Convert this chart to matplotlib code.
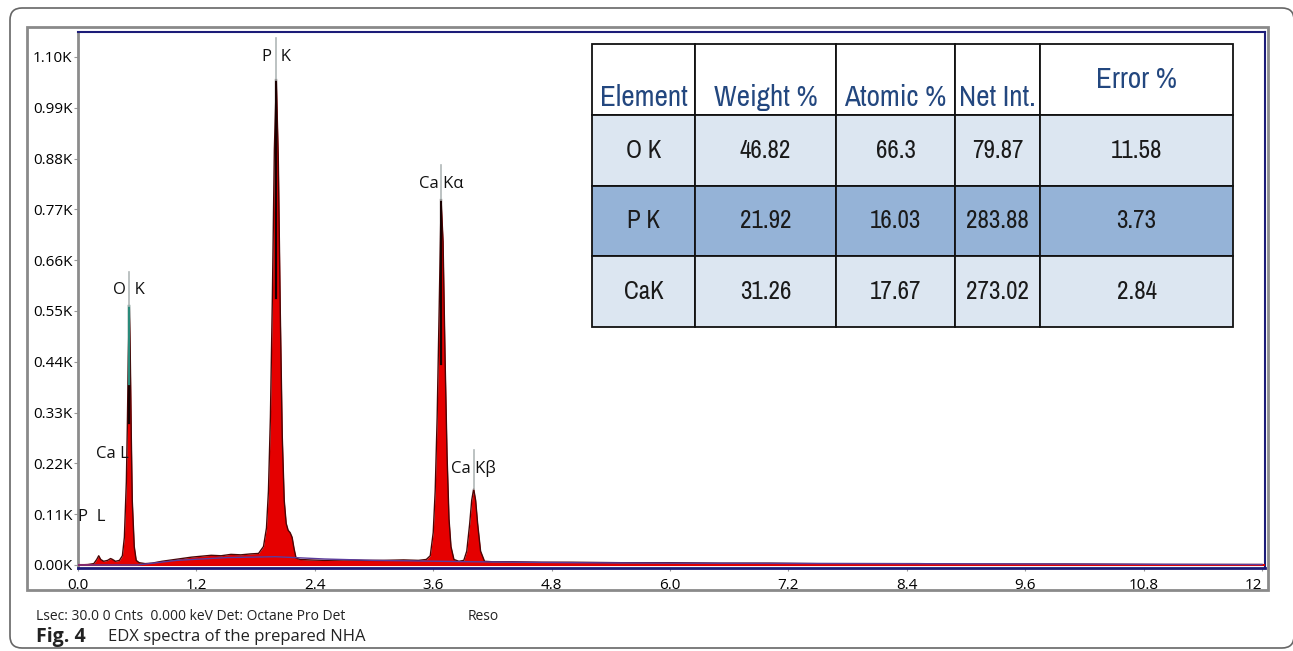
import matplotlib
matplotlib.use('Agg')
import matplotlib.pyplot as plt
import matplotlib.transforms as mtransforms
from matplotlib.patches import Rectangle, FancyBboxPatch

# ---- spectrum (energy keV, counts in K) ----
energy = [0.00, 0.10, 0.16, 0.19, 0.21, 0.23, 0.26, 0.30, 0.33, 0.35, 0.38, 0.42,
          0.45, 0.47, 0.49, 0.50, 0.51, 0.52, 0.53, 0.54, 0.55, 0.57, 0.59,
          0.62, 0.68, 0.75, 0.85, 0.95, 1.05, 1.15, 1.25, 1.35, 1.45, 1.55, 1.65, 1.75,
          1.83, 1.88, 1.91, 1.93, 1.95, 1.97, 1.99, 2.01, 2.03, 2.05, 2.07, 2.09,
          2.11, 2.13, 2.15, 2.17, 2.19, 2.21, 2.25,
          2.35, 2.50, 2.70, 2.90, 3.10, 3.30, 3.45,
          3.53, 3.57, 3.60, 3.62, 3.64, 3.66, 3.68, 3.70, 3.72, 3.74, 3.76, 3.78, 3.81, 3.86,
          3.91, 3.94, 3.97, 3.99, 4.01, 4.03, 4.05, 4.08, 4.12,
          4.20, 4.40, 4.70, 5.00, 5.50, 6.00, 6.50, 7.00, 7.50, 8.00, 8.50, 9.00, 9.50,
          10.0, 11.0, 12.0]
counts = [0.000, 0.001, 0.003, 0.012, 0.020, 0.012, 0.008, 0.010, 0.014, 0.012, 0.008, 0.010,
          0.020, 0.060, 0.180, 0.300, 0.450, 0.560, 0.450, 0.280, 0.140, 0.040, 0.010,
          0.005, 0.003, 0.004, 0.008, 0.011, 0.014, 0.017, 0.019, 0.021, 0.020, 0.023, 0.022, 0.024,
          0.025, 0.040, 0.080, 0.160, 0.320, 0.580, 0.900, 1.050, 0.880, 0.550, 0.280, 0.140,
          0.090, 0.075, 0.070, 0.060, 0.035, 0.015, 0.012,
          0.011, 0.010, 0.011, 0.010, 0.010, 0.011, 0.010,
          0.012, 0.020, 0.070, 0.160, 0.320, 0.550, 0.790, 0.700, 0.450, 0.240, 0.100, 0.040, 0.012, 0.008,
          0.010, 0.030, 0.090, 0.140, 0.165, 0.140, 0.090, 0.030, 0.008,
          0.007, 0.007, 0.006, 0.006, 0.005, 0.005, 0.004, 0.004, 0.003, 0.003, 0.003, 0.002, 0.002,
          0.002, 0.001, 0.001]

# fitted background line
bkg_energy = [0.0, 0.6, 1.0, 1.5, 2.0, 2.5, 3.0, 4.0, 5.0, 6.0, 8.0, 10.0, 12.0]
bkg_counts = [0.0, 0.0, 0.010, 0.016, 0.018, 0.013, 0.010, 0.007, 0.005, 0.004, 0.003, 0.002, 0.001]

# peak labels
peak_names = ['P  K', 'O  K', 'Ca K\u03b1', 'Ca K\u03b2', 'Ca L', 'P  L']
peak_energy = [2.01, 0.52, 3.68, 4.01, 0.35, 0.14]
peak_top = [1.05, 0.56, 0.79, 0.165, 0.015, 0.012]
label_y = [1.10, 0.595, 0.825, 0.21, 0.24, 0.105]

xticks = [0.0, 1.2, 2.4, 3.6, 4.8, 6.0, 7.2, 8.4, 9.6, 10.8, 12.0]
xtick_labels = ['0.0', '1.2', '2.4', '3.6', '4.8', '6.0', '7.2', '8.4', '9.6', '10.8', '12']
yticks = [0.0, 0.11, 0.22, 0.33, 0.44, 0.55, 0.66, 0.77, 0.88, 0.99, 1.10]
ytick_labels = ['0.00K', '0.11K', '0.22K', '0.33K', '0.44K', '0.55K',
                '0.66K', '0.77K', '0.88K', '0.99K', '1.10K']

# quantification table
col_labels = ['Element', 'Weight %', 'Atomic %', 'Net Int.', 'Error %']
elements = ['O K', 'P K', 'CaK']
weight = ['46.82', '21.92', '31.26']
atomic = ['66.3', '16.03', '17.67']
net_int = ['79.87', '283.88', '273.02']
error = ['11.58', '3.73', '2.84']

W, H = 1293, 651
fig = plt.figure(figsize=(W / 100, H / 100), dpi=100)

# outer rounded frame and grey panel
fig.add_artist(FancyBboxPatch((0.10, 0.03), 12.84, 6.40,
                              boxstyle='round,pad=0,rounding_size=0.12',
                              transform=fig.dpi_scale_trans, fill=False,
                              ec='#666666', lw=1.2))
fig.add_artist(Rectangle((27 / W, 1 - 590 / H), (1268 - 27) / W, (590 - 27) / H,
                         transform=fig.transFigure, fill=False, ec='#8a8a8a', lw=2))

ax = fig.add_axes([78 / W, 1 - 568 / H, (1265 - 78) / W, (568 - 32) / H])
ax.set_xlim(0, 12.03)
ax.set_ylim(-0.0065, 1.154)

ax.fill_between(energy, counts, 0, color='#e50000', lw=0, zorder=2)
ax.plot(energy, counts, color='#4a0505', lw=1.0, zorder=3)
ax.plot(bkg_energy, bkg_counts, color='#5a3c9c', lw=1.0, zorder=4)
ax.axhline(0, color='#e00000', lw=1.5, zorder=3)

# dark top of the narrow peaks
for e, h in zip(peak_energy[:3], peak_top[:3]):
    ax.plot([e, e], [0.55 * h, h], color='#1a0000', lw=1.6, zorder=4)
ax.plot([peak_energy[1], peak_energy[1]], [0.70 * peak_top[1], peak_top[1]],
        color='#2a8a7a', lw=1.6, zorder=5)

# label marker lines + labels
for name, e, h, ly in zip(peak_names, peak_energy, peak_top, label_y):
    if h > 0.1:
        ax.plot([e, e], [h, ly + 0.04], color='#b0b8b8', lw=1.2, zorder=5)
    ax.text(e, ly, name, ha='center', va='center', fontsize=12,
            family='Open Sans', color='#111111', zorder=6)

for side in ['top', 'right', 'bottom']:
    ax.spines[side].set_color('#1c1c78')
ax.spines['top'].set_linewidth(1.5)
ax.spines['right'].set_linewidth(1.5)
ax.spines['bottom'].set_linewidth(2)
ax.spines['left'].set_color('#8c8c8c')
ax.spines['left'].set_linewidth(2)

ax.set_xticks(xticks)
ax.set_xticklabels(xtick_labels, family='Open Sans', fontsize=11)
ax.set_yticks(yticks)
ax.set_yticklabels(ytick_labels, family='Open Sans', fontsize=11)
ax.get_xticklabels()[-1].set_horizontalalignment('right')
ax.tick_params(axis='y', direction='out', length=3, color='#999999', pad=1)
ax.tick_params(axis='x', direction='out', length=2, color='#999999', pad=5)

# table
rows = [list(r) for r in zip(elements, weight, atomic, net_int, error)]
row_colors = ['#dce6f1', '#95b3d7', '#dce6f1']
col_w = [103, 141, 119, 85, 193]
tx0 = (592 - 78) / (1265 - 78)
tx1 = (1233 - 78) / (1265 - 78)
ty1 = (568 - 44) / (568 - 32)
ty0 = (568 - 327) / (568 - 32)
tab = ax.table(cellText=rows, colLabels=col_labels,
               cellColours=[[c] * 5 for c in row_colors],
               colColours=['white'] * 5, colWidths=col_w,
               cellLoc='center', colLoc='center',
               bbox=[tx0, ty0, tx1 - tx0, ty1 - ty0], zorder=10)
tab.auto_set_font_size(False)
narrow = ['Archivo Narrow', 'DejaVu Sans']
for (r, c), cell in tab.get_celld().items():
    cell.set_edgecolor('#111111')
    cell.set_linewidth(1.3)
    t = cell.get_text()
    t.set_family(narrow)
    if r == 0:
        t.set_color('#23477f')
        t.set_fontsize(21)
        if c < 4:
            # header words sit low in their cells
            t.set_transform(mtransforms.Affine2D().translate(0, -18))
    else:
        t.set_color('#1a1a1a')
        t.set_fontsize(18)

# footer texts
fig.text(36 / W, 1 - 617 / H, 'Lsec: 30.0 0 Cnts  0.000 keV Det: Octane Pro Det',
         family='Open Sans', fontsize=10, va='center', color='#222222')
fig.text(468 / W, 1 - 617 / H, 'Reso', family='Open Sans', fontsize=10,
         va='center', color='#222222')
fig.text(36 / W, 1 - 637 / H, 'Fig. 4', family='Open Sans', fontsize=14,
         weight='bold', va='center', color='#222222')
fig.text(108 / W, 1 - 637 / H, 'EDX spectra of the prepared NHA', family='Open Sans',
         fontsize=12, va='center', color='#222222')

fig.savefig('out.png', dpi=100)
